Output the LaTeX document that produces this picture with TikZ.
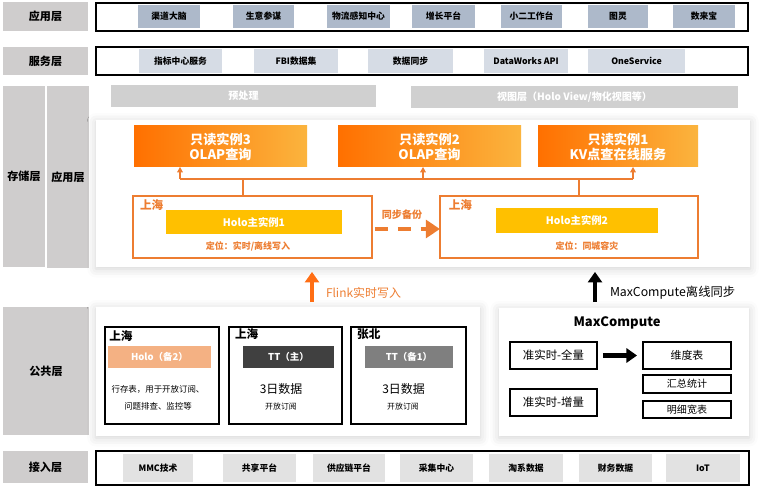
\documentclass[tikz,border=0pt]{standalone}
\usepackage{fontspec}
\setmainfont{Noto Sans CJK SC}
\usepackage{tikz}
\usetikzlibrary{arrows.meta, shadows.blur, positioning}

\definecolor{labgray}{RGB}{207,205,205}
\definecolor{appblue}{RGB}{173,185,202}
\definecolor{svcblue}{RGB}{214,220,229}
\definecolor{inggray}{RGB}{226,226,226}
\definecolor{pregray}{RGB}{208,208,208}
\definecolor{lineorange}{RGB}{237,125,49}
\definecolor{deeporange}{RGB}{255,112,0}
\definecolor{lightorange}{RGB}{251,180,62}
\definecolor{holdgold}{RGB}{255,192,0}
\definecolor{salmon}{RGB}{244,177,131}
\definecolor{ttdark}{RGB}{64,64,64}
\definecolor{ttgray}{RGB}{127,127,127}
\definecolor{flinkorange}{RGB}{255,110,20}

\tikzset{sz/.style 2 args={minimum width=#1*0.02cm, minimum height=#2*0.02cm}}

\begin{document}
\begin{tikzpicture}[x=0.02cm, y=-0.02cm,
    every node/.style={inner sep=0pt, outer sep=0pt},
    lab/.style={fill=labgray, font=\bfseries\fontsize{6.3}{7}\selectfont},
    layerframe/.style={draw, line width=0.8pt},
    appitem/.style={fill=appblue, font=\bfseries\fontsize{5}{6}\selectfont},
    svcitem/.style={fill=svcblue, font=\bfseries\fontsize{5}{6}\selectfont},
    ingitem/.style={fill=inggray, font=\bfseries\fontsize{5}{6}\selectfont},
    prebar/.style={fill=pregray, text=white, font=\bfseries\fontsize{5.7}{7}\selectfont},
    panel/.style={fill=white, blur shadow={shadow xshift=0pt, shadow yshift=-1pt, shadow blur radius=5pt, shadow opacity=18}},
    readonly/.style={left color=deeporange, right color=lightorange, text=white, align=center, font=\bfseries\fontsize{7.5}{8.6}\selectfont},
    site/.style={draw=lineorange, line width=0.6pt},
    city/.style={text=lineorange, font=\bfseries\fontsize{6.6}{7}\selectfont},
    holo/.style={fill=holdgold, text=white, font=\bfseries\fontsize{5.9}{7}\selectfont},
    note/.style={text=lineorange, font=\bfseries\fontsize{5.1}{6}\selectfont},
    bus/.style={draw=lineorange, line width=0.6pt},
    feed/.style={bus, -{Triangle[length=3pt,width=3.2pt]}},
    sync/.style={draw=lineorange, line width=2.8pt, dash pattern=on 7.5pt off 5.5pt, -{Triangle[length=8pt,width=10pt]}},
    flink/.style={draw=flinkorange, line width=2.8pt, -{Triangle[length=6pt,width=8pt]}},
    offline/.style={draw=black, line width=2.8pt, -{Triangle[length=6pt,width=8pt]}},
    pubbox/.style={draw, line width=0.7pt},
    town/.style={font=\bfseries\fontsize{6.6}{7}\selectfont},
    ttbar/.style={text=white, font=\bfseries\fontsize{5.4}{6}\selectfont},
    mcbox/.style={draw, line width=0.7pt}]

    \useasboundingbox (0,0) rectangle (777,486);

    % 应用层
    \node[lab, sz={85}{29}] (applab) at (45.5,16.5) {应用层};
    \node[layerframe, sz={652}{28}] (appframe) at (422,17) {};
    \node[appitem, sz={62}{23}] (qudao) at (169,16.5) {渠道大脑};
    \node[appitem, sz={61}{23}] (shengyi) at (263.5,16.5) {生意参谋};
    \node[appitem, sz={63}{23}] (wuliu) at (358.5,16.5) {物流感知中心};
    \node[appitem, sz={63}{23}] (zengzhang) at (443.5,16.5) {增长平台};
    \node[appitem, sz={61}{23}] (xiaoer) at (531.5,16.5) {小二工作台};
    \node[appitem, sz={60}{23}] (tuling) at (618,16.5) {图灵};
    \node[appitem, sz={62}{23}] (shulaibao) at (704,16.5) {数来宝};

    % 服务层
    \node[lab, sz={85}{28}] (svclab) at (45.5,61) {服务层};
    \node[layerframe, sz={652}{28}] (svcframe) at (422,61) {};
    \node[svcitem, sz={83}{24}] (zhibiao) at (180.5,61) {指标中心服务};
    \node[svcitem, sz={84}{24}] (fbi) at (296,61) {FBI数据集};
    \node[svcitem, sz={85}{24}] (tongbu) at (410.5,61) {数据同步};
    \node[svcitem, sz={84}{24}] (dataworks) at (526,61) {DataWorks API};
    \node[svcitem, sz={97}{24}] (oneservice) at (636.5,61) {OneService};

    % 存储层
    \node[lab, sz={42}{181}] (storelab) at (24,176.5) {存储层};
    \node[lab, sz={42}{182}] (storeapplab) at (68,177) {应用层};
    \node[prebar, sz={265}{22}] (preproc) at (243.5,96) {预处理};
    \node[prebar, sz={327}{22}] (viewlayer) at (574.5,97) {视图层（Holo View/物化视图等）};
    \node[panel, sz={654}{147}] (storepanel) at (423,193.5) {};

    \node[readonly, sz={173}{41}] (ro3) at (220.5,146.5) {只读实例3\\OLAP查询};
    \node[readonly, sz={183}{41}] (ro2) at (429.5,146.5) {只读实例2\\OLAP查询};
    \node[readonly, sz={160}{41}] (ro1) at (618,146.5) {只读实例1\\KV点查在线服务};

    \node[site, sz={239}{62}, label={[city, anchor=north west, xshift=4pt, yshift=-2pt]north west:上海}] (sh1) at (252.5,227) {};
    \node[holo, sz={176}{24}] (holo1) at (254,222) {Holo主实例1};
    \node[note] (pos1) at (248,246) {定位：实时/离线写入};
    \node[site, sz={258}{62}, label={[city, anchor=north west, xshift=5pt, yshift=-2pt]north west:上海}] (sh2) at (569,227) {};
    \node[holo, sz={162}{25}] (holo2) at (577,220.5) {Holo主实例2};
    \node[note] (pos2) at (587,246) {定位：同城容灾};

    \node[note, font=\bfseries\fontsize{5.7}{7}\selectfont] (synclab) at (402,215) {同步备份};
    \draw[sync, shorten <=1.7pt] (sh1.east |- 0,229) -- (sh2.west |- 0,229);

    \coordinate (busL) at (180,179);
    \coordinate (busR) at (633,179);
    \coordinate (hubA) at (243,179);
    \coordinate (hubM) at (423,179);
    \coordinate (hubB) at (579,179);
    \draw[bus] (sh1.north -| hubA) -- (hubA);
    \draw[bus, line width=1.1pt] (sh2.north -| hubB) -- (hubB);
    \draw[bus] (busL) -- (busR);
    \draw[feed] (busL) -- (busL |- ro3.south);
    \draw[feed] (hubM) -- (hubM |- ro2.south);
    \draw[feed] (busR) -- (busR |- ro1.south);

    % 公共层
    \node[lab, sz={86}{128}] (publab) at (46,371) {公共层};
    \node[panel, sz={384}{129}] (pubpanel) at (288,371.5) {};
    \node[panel, sz={250}{128}] (mcpanel) at (624,372) {};

    \coordinate (flk) at (312,287);
    \coordinate (mcx) at (595,287);
    \draw[flink, shorten <=2.8pt, shorten >=2.8pt] (pubpanel.north -| flk) -- (storepanel.south -| flk);
    \node[anchor=west, text=lineorange, font=\fontsize{6.8}{8}\selectfont] (flinklab) at (326,293) {Flink实时写入};
    \draw[offline, shorten <=3.4pt, shorten >=2.8pt] (mcpanel.north -| mcx) -- (storepanel.south -| mcx);
    \node[anchor=west, font=\fontsize{7}{8}\selectfont] (offlinelab) at (610,293) {MaxCompute离线同步};

    \node[pubbox, sz={114}{97}, label={[town, anchor=north west, xshift=2.5pt, yshift=-2pt]north west:上海}] (boxA) at (162,375.5) {};
    \node[ttbar, fill=salmon, sz={103}{22}] (holobak) at (159.5,357) {Holo（备2）};
    \node[align=center, font=\fontsize{4.8}{9.6}\selectfont] (rowstore) at (158,397.5) {行存表，用于开放订阅、\\问题排查、监控等};

    \node[pubbox, sz={113}{97}, label={[town, anchor=north west, xshift=3.5pt, yshift=-1pt]north west:上海}] (boxB) at (285.5,375.5) {};
    \node[ttbar, fill=ttdark, sz={91}{22}] (ttmain) at (288.5,357) {TT（主）};
    \node[font=\fontsize{6.8}{8}\selectfont] (daysB) at (281,389) {3日数据};
    \node[font=\fontsize{4.5}{5}\selectfont] (subB) at (281,407) {开放订阅};

    \node[pubbox, sz={115}{97}, label={[town, anchor=north west, xshift=3.5pt, yshift=-1pt]north west:张北}] (boxC) at (408.5,375.5) {};
    \node[ttbar, fill=ttgray, sz={88}{22}] (ttbak) at (409,357) {TT（备1）};
    \node[font=\fontsize{6.8}{8}\selectfont] (daysC) at (403.5,389) {3日数据};
    \node[font=\fontsize{4.5}{5}\selectfont] (subC) at (403,407) {开放订阅};

    \node[font=\bfseries\fontsize{7.4}{8}\selectfont] (mctitle) at (617,323) {MaxCompute};
    \node[mcbox, sz={87}{27}, font=\fontsize{6.5}{7}\selectfont] (qsfull) at (553.5,355.5) {准实时-全量};
    \node[mcbox, sz={87}{27}, font=\fontsize{6.5}{7}\selectfont] (qsinc) at (553.5,402.5) {准实时-增量};
    \node[mcbox, sz={88}{27}, font=\fontsize{6.2}{7}\selectfont] (dimtab) at (687,355.5) {维度表};
    \node[mcbox, sz={88}{18}, font=\fontsize{5.7}{7}\selectfont] (sumstat) at (687,384) {汇总统计};
    \node[mcbox, sz={88}{17}, font=\fontsize{5.7}{7}\selectfont] (widetab) at (687,409.5) {明细宽表};
    \draw[offline, shorten <=3.4pt, shorten >=3.4pt] (qsfull.east) -- (dimtab.west);

    % 接入层
    \node[lab, sz={85}{32}] (inglab) at (45.5,467) {接入层};
    \node[layerframe, sz={653}{34}] (ingframe) at (422.5,468) {};
    \node[ingitem, sz={70}{28}] (mmc) at (158,468) {MMC技术};
    \node[ingitem, sz={73}{28}] (gongxiang) at (259.5,468) {共享平台};
    \node[ingitem, sz={72}{28}] (gongying) at (349,468) {供应链平台};
    \node[ingitem, sz={73}{28}] (caiji) at (436.5,468) {采集中心};
    \node[ingitem, sz={74}{28}] (taoxi) at (526,468) {淘系数据};
    \node[ingitem, sz={73}{28}] (caiwu) at (615.5,468) {财务数据};
    \node[ingitem, sz={74}{28}] (iot) at (703,468) {IoT};
\end{tikzpicture}
\end{document}
